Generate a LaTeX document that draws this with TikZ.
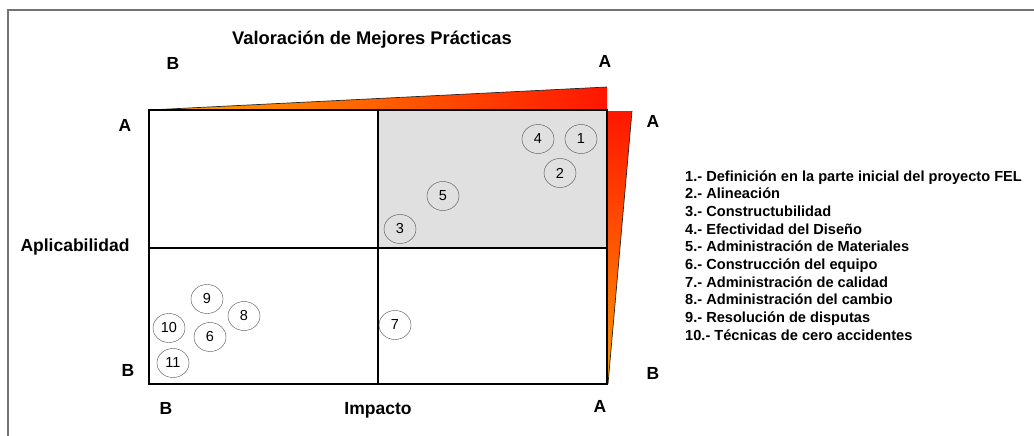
\documentclass[tikz,border=0pt]{standalone}
\usepackage{fontspec}
\setmainfont{Liberation Sans}
\usetikzlibrary{shapes.geometric}
\definecolor{naranja}{RGB}{255,168,0}
\definecolor{rojo}{RGB}{255,22,0}
\definecolor{gris}{RGB}{224,224,224}

\begin{document}
\begin{tikzpicture}[x=1pt,y=-1pt,
            practica/.style={draw=black!70,ellipse,minimum width=32pt,minimum height=29pt,inner sep=0pt,font=\fontsize{14.5}{16}\selectfont},
            letra/.style={anchor=base,font=\bfseries\fontsize{17.5}{20}\selectfont}]
            \useasboundingbox (0,0) rectangle (1034,436);
            \draw[black!55,line width=1.5pt] (8,436) -- (8,10) -- (1034,10);
            % cuadrantes
            \fill[gris] (378,110) rectangle (607,248);
            \shade[left color=naranja,right color=rojo] (149,110) -- (607,87) -- (607,110) -- cycle;
            \draw[black!85,line width=0.7pt] (149,110) -- (607,87);
            \shade[top color=rojo,bottom color=naranja!90!red] (607,111) -- (632,111) -- (608,384) -- cycle;
            \draw[black!85,line width=0.7pt] (632,111) -- (608,384);
            \draw[line width=2pt] (149,110) rectangle (607,384);
            \draw[line width=1.6pt] (378,110) -- (378,384) (149,248) -- (607,248);
            % textos
            \node[letra,font=\bfseries\fontsize{18.3}{20}\selectfont] (titulo) at (372,45) {Valoración de Mejores Prácticas};
            \node[letra] (xb) at (173,70) {B};
            \node[letra] (xa) at (605,68) {A};
            \node[letra] (ya) at (125,131) {A};
            \node[letra] (yb) at (128,376) {B};
            \node[letra] (za) at (653,127) {A};
            \node[letra] (zb) at (653,379) {B};
            \node[letra] (ib) at (166,414) {B};
            \node[letra] (impacto) at (378,414) {Impacto};
            \node[letra,anchor=base west] (aplicabilidad) at (17,251) {Aplicabilidad};
            \node[letra] (ia) at (600,412) {A};
            % practicas
            \node[practica] (p1) at (581,139) {1};
            \node[practica] (p2) at (560,173) {2};
            \node[practica] (p3) at (400,229) {3};
            \node[practica] (p4) at (538,139) {4};
            \node[practica] (p5) at (443,196) {5};
            \node[practica] (p6) at (210,337) {6};
            \node[practica] (p7) at (395,325) {7};
            \node[practica] (p8) at (244,316) {8};
            \node[practica] (p9) at (207,299) {9};
            \node[practica] (p10) at (169,328) {10};
            \node[practica] (p11) at (173,363) {11};
            % leyenda (base = ultima linea)
            \node[anchor=base west,align=left,inner sep=0pt,font=\bfseries\fontsize{14.6}{17.7}\selectfont] (leyenda) at (685,340.3) {%
                1.- Definición en la parte inicial del proyecto FEL\\
                2.- Alineación\\
                3.- Constructubilidad\\
                4.- Efectividad del Diseño\\
                5.- Administración de Materiales\\
                6.- Construcción del equipo\\
                7.- Administración de calidad\\
                8.- Administración del cambio\\
                9.- Resolución de disputas\\
                10.- Técnicas de cero accidentes};
        \end{tikzpicture}
\end{document}
